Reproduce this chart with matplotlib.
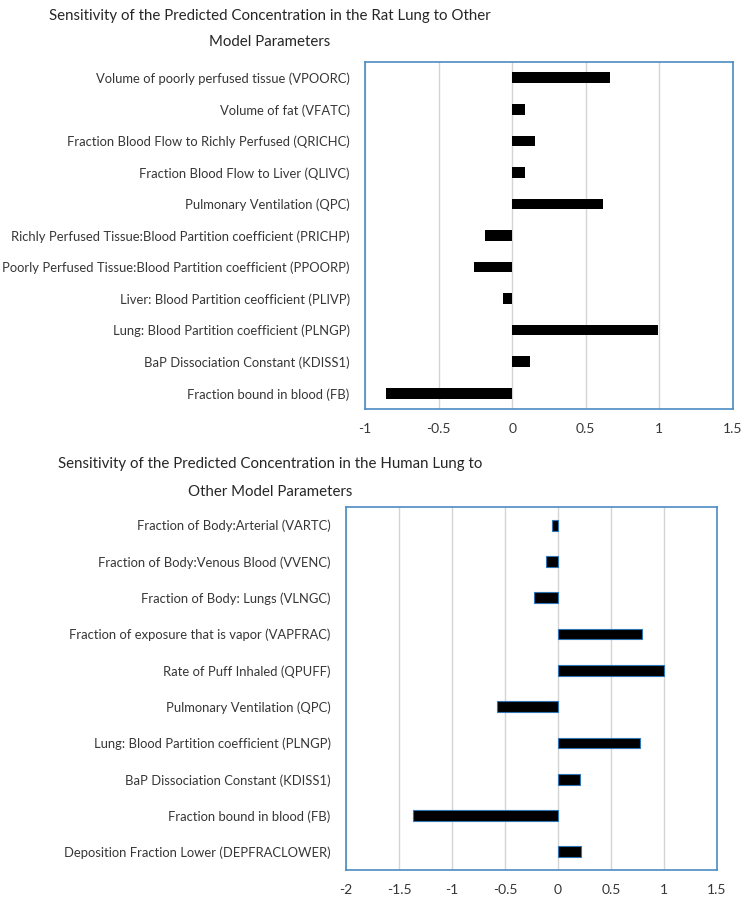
import matplotlib
matplotlib.use("Agg")
import matplotlib.pyplot as plt

plt.rcParams['font.family'] = ['Lato', 'DejaVu Sans']

rat_labels = [
    "Volume of poorly perfused tissue (VPOORC)",
    "Volume of fat (VFATC)",
    "Fraction Blood Flow to Richly Perfused (QRICHC)",
    "Fraction Blood Flow to Liver (QLIVC)",
    "Pulmonary Ventilation (QPC)",
    "Richly Perfused Tissue:Blood Partition coefficient (PRICHP)",
    "Poorly Perfused Tissue:Blood Partition coefficient (PPOORP)",
    "Liver: Blood Partition ceofficient (PLIVP)",
    "Lung: Blood Partition coefficient (PLNGP)",
    "BaP Dissociation Constant (KDISS1)",
    "Fraction bound in blood (FB)",
]
rat_values = [0.667, 0.086, 0.158, 0.086, 0.619, -0.182, -0.261, -0.061, 0.991, 0.119, -0.86]

human_labels = [
    "Fraction of Body:Arterial (VARTC)",
    "Fraction of Body:Venous Blood (VVENC)",
    "Fraction of Body: Lungs (VLNGC)",
    "Fraction of exposure that is vapor (VAPFRAC)",
    "Rate of Puff Inhaled (QPUFF)",
    "Pulmonary Ventilation (QPC)",
    "Lung: Blood Partition coefficient (PLNGP)",
    "BaP Dissociation Constant (KDISS1)",
    "Fraction bound in blood (FB)",
    "Deposition Fraction Lower (DEPFRACLOWER)",
]
human_values = [-0.053, -0.11, -0.223, 0.79, 1.0, -0.58, 0.777, 0.204, -1.367, 0.213]

rat_ticks = [-1, -0.5, 0, 0.5, 1, 1.5]
human_ticks = [-2, -1.5, -1, -0.5, 0, 0.5, 1, 1.5]

rat_title = "Sensitivity of the Predicted Concentration in the Rat Lung to Other\nModel Parameters"
human_title = "Sensitivity of the Predicted Concentration in the Human Lung to\nOther Model Parameters"

W, H = 748, 900
fig = plt.figure(figsize=(W / 100, H / 100), dpi=100)

frame_col = "#4a8cc4"
grid_col = "#d4d4d4"
text_col = "#363636"


def tick_fmt(v):
    return f"{v:g}"


def make(ax_box, labels, values, ticks, bar_h, edge):
    l, b, r, t = ax_box
    ax = fig.add_axes([l / W, 1 - b / H, (r - l) / W, (b - t) / H])
    y = list(range(len(labels)))
    ax.barh(y, values, height=bar_h, color="black",
            edgecolor=edge, linewidth=0.8 if edge != "none" else 0, zorder=3)
    ax.set_ylim(len(labels) - 0.5, -0.5)
    ax.set_xlim(ticks[0], ticks[-1])
    ax.set_xticks(ticks)
    ax.set_xticklabels([tick_fmt(v) for v in ticks])
    ax.set_yticks(y)
    ax.set_yticklabels(labels)
    ax.tick_params(axis="both", length=0, colors=text_col)
    ax.tick_params(axis="y", pad=11, labelsize=9.4)
    ax.tick_params(axis="x", pad=10, labelsize=10)
    ax.xaxis.grid(True, color=grid_col, linewidth=1, zorder=0)
    ax.set_axisbelow(True)
    for s in ax.spines.values():
        s.set_color(frame_col)
        s.set_linewidth(1.2)
    return ax


make((365, 409, 733, 62), rat_labels, rat_values, rat_ticks, 0.335, "none")
make((346, 870, 717, 507), human_labels, human_values, human_ticks, 0.30, "#2f75b5")

fig.text(270 / W, 1 - 29 / H, rat_title, ha="center", va="center",
         fontsize=10.8, color="#262626", linespacing=2.05)
fig.text(270 / W, 1 - 478 / H, human_title, ha="center", va="center",
         fontsize=10.8, color="#262626", linespacing=2.3)

fig.savefig("out.png", dpi=100, facecolor="white")
